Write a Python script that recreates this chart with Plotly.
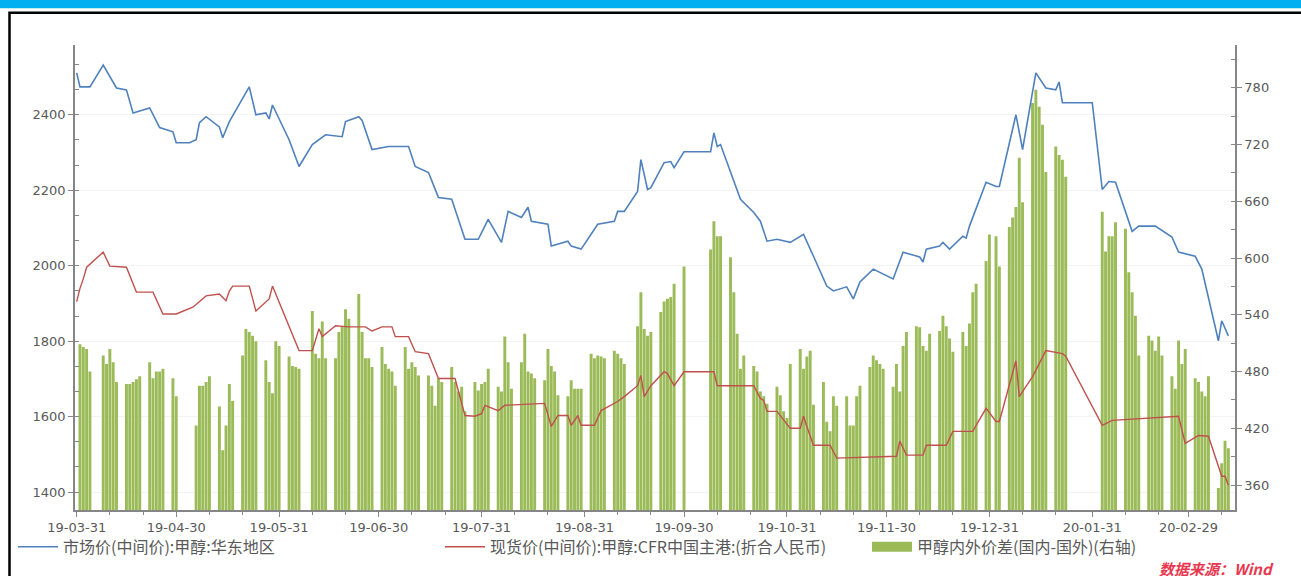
import plotly.graph_objects as go
import pandas as pd

# ---------------- data ----------------
blue_name = "市场价(中间价):甲醇:华东地区"
red_name = "现货价(中间价):甲醇:CFR中国主港:(折合人民币)"
bar_name = "甲醇内外价差(国内-国外)(右轴)"

blue_dates = [
    "2019-03-31", "2019-04-01", "2019-04-04", "2019-04-08", "2019-04-12", "2019-04-15",
    "2019-04-17", "2019-04-22", "2019-04-25", "2019-04-29", "2019-04-30", "2019-05-04",
    "2019-05-06", "2019-05-07", "2019-05-09", "2019-05-13", "2019-05-14", "2019-05-16",
    "2019-05-22", "2019-05-24", "2019-05-27", "2019-05-28", "2019-05-29", "2019-06-03",
    "2019-06-06", "2019-06-10", "2019-06-14", "2019-06-19", "2019-06-20", "2019-06-24",
    "2019-06-25", "2019-06-26", "2019-06-28", "2019-07-03", "2019-07-09", "2019-07-11",
    "2019-07-15", "2019-07-18", "2019-07-22", "2019-07-26", "2019-07-30", "2019-08-02",
    "2019-08-06", "2019-08-08", "2019-08-12", "2019-08-14", "2019-08-15", "2019-08-20",
    "2019-08-21", "2019-08-26", "2019-08-27", "2019-08-30", "2019-09-04", "2019-09-09",
    "2019-09-10", "2019-09-12", "2019-09-16", "2019-09-17", "2019-09-19", "2019-09-20",
    "2019-09-24", "2019-09-26", "2019-09-27", "2019-09-30", "2019-10-08", "2019-10-09",
    "2019-10-10", "2019-10-11", "2019-10-17", "2019-10-21", "2019-10-23", "2019-10-25",
    "2019-10-28", "2019-11-01", "2019-11-05", "2019-11-08", "2019-11-12", "2019-11-14",
    "2019-11-18", "2019-11-20", "2019-11-22", "2019-11-26", "2019-12-02", "2019-12-05",
    "2019-12-10", "2019-12-11", "2019-12-12", "2019-12-16", "2019-12-17", "2019-12-19",
    "2019-12-23", "2019-12-24", "2019-12-25", "2019-12-30", "2020-01-02", "2020-01-03",
    "2020-01-06", "2020-01-08", "2020-01-10", "2020-01-14", "2020-01-17", "2020-01-20",
    "2020-01-21", "2020-01-22", "2020-01-31", "2020-02-03", "2020-02-05", "2020-02-07",
    "2020-02-12", "2020-02-14", "2020-02-19", "2020-02-24", "2020-02-26", "2020-03-02",
    "2020-03-04", "2020-03-09", "2020-03-10", "2020-03-12",
]
blue_values = [
    2511, 2474, 2474, 2532, 2471, 2466,
    2405, 2418, 2366, 2355, 2326, 2326,
    2334, 2379, 2395, 2368, 2339, 2382,
    2474, 2400, 2405, 2389, 2426, 2334,
    2263, 2321, 2347, 2342, 2382, 2395,
    2385, 2360, 2308, 2316, 2316, 2263,
    2247, 2181, 2176, 2070, 2070, 2123,
    2062, 2144, 2128, 2155, 2118, 2110,
    2052, 2065, 2052, 2044, 2110, 2118,
    2144, 2144, 2197, 2281, 2202, 2207,
    2273, 2276, 2260, 2302, 2302, 2352,
    2316, 2321, 2176, 2141, 2118, 2065,
    2070, 2062, 2083, 2025, 1946, 1933,
    1944, 1912, 1957, 1991, 1965, 2036,
    2023, 2010, 2044, 2052, 2062, 2044,
    2078, 2073, 2105, 2221, 2210, 2210,
    2321, 2400, 2308, 2511, 2471, 2466,
    2487, 2432, 2432, 2202, 2223, 2221,
    2091, 2105, 2105, 2076, 2036, 2025,
    1991, 1801, 1854, 1814,
]

red_dates = [
    "2019-03-31", "2019-04-01", "2019-04-02", "2019-04-03", "2019-04-08", "2019-04-10",
    "2019-04-15", "2019-04-18", "2019-04-23", "2019-04-26", "2019-04-30", "2019-05-05",
    "2019-05-09", "2019-05-13", "2019-05-15", "2019-05-16", "2019-05-17", "2019-05-22",
    "2019-05-24", "2019-05-28", "2019-05-29", "2019-06-04", "2019-06-06", "2019-06-10",
    "2019-06-12", "2019-06-13", "2019-06-17", "2019-06-21", "2019-06-26", "2019-06-28",
    "2019-07-01", "2019-07-04", "2019-07-05", "2019-07-09", "2019-07-11", "2019-07-15",
    "2019-07-18", "2019-07-23", "2019-07-26", "2019-07-29", "2019-07-31", "2019-08-01",
    "2019-08-05", "2019-08-07", "2019-08-19", "2019-08-21", "2019-08-23", "2019-08-26",
    "2019-08-27", "2019-08-29", "2019-08-30", "2019-09-03", "2019-09-05", "2019-09-10",
    "2019-09-12", "2019-09-16", "2019-09-17", "2019-09-18", "2019-09-20", "2019-09-24",
    "2019-09-25", "2019-09-27", "2019-09-30", "2019-10-09", "2019-10-10", "2019-10-21",
    "2019-10-23", "2019-10-24", "2019-10-25", "2019-10-28", "2019-11-01", "2019-11-04",
    "2019-11-05", "2019-11-06", "2019-11-08", "2019-11-13", "2019-11-15", "2019-12-03",
    "2019-12-04", "2019-12-06", "2019-12-11", "2019-12-12", "2019-12-18", "2019-12-20",
    "2019-12-26", "2019-12-27", "2019-12-30", "2020-01-02", "2020-01-03", "2020-01-08",
    "2020-01-09", "2020-01-13", "2020-01-17", "2020-01-22", "2020-01-23", "2020-02-03",
    "2020-02-06", "2020-02-26", "2020-02-28", "2020-03-03", "2020-03-06", "2020-03-10",
    "2020-03-11", "2020-03-12",
]
red_values = [
    1905, 1940, 1965, 1996, 2036, 1999,
    1996, 1930, 1930, 1872, 1872, 1890,
    1920, 1925, 1907, 1933, 1946, 1946,
    1880, 1912, 1946, 1814, 1775, 1775,
    1833, 1812, 1841, 1838, 1838, 1827,
    1838, 1838, 1812, 1812, 1772, 1767,
    1701, 1701, 1603, 1601, 1608, 1630,
    1616, 1630, 1635, 1574, 1603, 1603,
    1577, 1603, 1577, 1577, 1616, 1640,
    1653, 1682, 1709, 1653, 1682, 1719,
    1714, 1682, 1719, 1719, 1682, 1682,
    1648, 1643, 1614, 1614, 1569, 1569,
    1601, 1574, 1524, 1524, 1490, 1495,
    1535, 1498, 1498, 1524, 1524, 1561,
    1561, 1577, 1622, 1587, 1587, 1748,
    1653, 1706, 1775, 1767, 1760, 1577,
    1590, 1601, 1529, 1550, 1548, 1442,
    1442, 1418,
]

# market closures (no spread published on these weekdays)
holidays = [
    "2019-04-05", "2019-05-01", "2019-05-02", "2019-05-03", "2019-06-07", "2019-09-13",
    "2019-10-01", "2019-10-02", "2019-10-03", "2019-10-04", "2019-10-07", "2020-01-01",
    "2020-01-24", "2020-01-27", "2020-01-28", "2020-01-29", "2020-01-30", "2020-01-31",
]
bar_start, bar_end = "2019-04-01", "2020-03-12"
spread_values = [
    509, 506, 504, 480,
    497, 488, 504, 490, 469,
    467, 467, 469, 472, 475,
    490, 473, 480, 480, 483,
    473, 454,
    423, 465, 465, 469, 475,
    443, 397, 423, 467, 449,
    497, 525, 522, 518, 512,
    492, 469, 457, 512, 507,
    496, 486, 485, 483,
    544, 499, 494, 533, 494,
    494, 522, 528, 546, 536,
    562, 522, 494, 494, 485,
    506, 488, 483, 480, 465,
    506, 483, 490, 485, 476,
    476, 465, 444, 473, 469,
    485, 469, 459, 464, 438,
    469, 460, 467, 469, 483,
    464, 459, 517, 490, 462,
    490, 520, 480, 478, 473,
    471, 504, 486, 480, 455,
    454, 471, 462, 462, 462,
    499, 494, 497, 496, 494,
    502, 499, 494, 488,
    528, 564, 525, 518, 522,
    543, 554, 557, 559, 573,
    591,
    609, 639, 623, 623,
    601, 564, 520, 483, 497,
    486, 480, 459, 454, 446,
    464, 455, 438, 431, 488,
    504, 483, 496, 502, 445,
    469, 427, 417, 454, 444,
    454, 423, 423, 454, 465,
    485, 497, 492, 488, 483,
    464, 488, 459, 507, 522,
    528, 527, 507, 502, 520,
    523, 539, 528, 515, 501,
    522, 507, 531, 564, 573,
    597, 625, 623, 591,
    633, 643, 654, 706, 659,
    764, 778, 760, 741, 691,
    718, 709, 704, 686,
    649, 607, 623, 623, 638,
    631, 585, 564, 539, 497,
    518, 513, 502, 517, 497,
    475, 462, 513, 488, 504,
    473, 469, 459, 454, 475,
    357, 383, 407, 399,
]

tick_dates = [
    "2019-03-31", "2019-04-30", "2019-05-31", "2019-06-30", "2019-07-31", "2019-08-31",
    "2019-09-30", "2019-10-31", "2019-11-30", "2019-12-31", "2020-01-31", "2020-02-29",
]

# ---------------- build ----------------
hol = set(pd.to_datetime(holidays))
bar_dates = [d for d in pd.bdate_range(bar_start, bar_end) if d not in hol]
n = min(len(bar_dates), len(spread_values))
bar_dates = bar_dates[:n]
spread_plot = spread_values[:n]

tick_ts = pd.to_datetime(tick_dates)
minor_vals = []
for t in tick_ts:
    minor_vals += [t + pd.Timedelta(days=10), t + pd.Timedelta(days=20)]

GREEN = "#9BBB59"
BLUE = "#4F81BD"
RED = "#C0504D"
AXIS = "#868686"
TXT = "#595959"

fig = go.Figure()
fig.add_trace(go.Bar(x=bar_dates, y=spread_plot, marker=dict(color=GREEN, line=dict(width=0)),
                     name=bar_name, yaxis="y", showlegend=False, legendgroup="g"))
fig.add_trace(go.Scatter(x=[None], y=[None], mode="lines", line=dict(color=GREEN, width=12),
                         name=bar_name, yaxis="y", legendgroup="g", legend="legend3"))
fig.add_trace(go.Scatter(x=pd.to_datetime(blue_dates), y=blue_values, mode="lines",
                         line=dict(color=BLUE, width=1.6), name=blue_name, yaxis="y2",
                         legend="legend"))
fig.add_trace(go.Scatter(x=pd.to_datetime(red_dates), y=red_values, mode="lines",
                         line=dict(color=RED, width=1.4), name=red_name, yaxis="y2",
                         legend="legend2"))

W, H = 1301, 576
L, R, T, B = 75, 1235, 45, 512
def px(x):
    return (x - L) / (R - L)
def py(y):
    return 1 - (y - T) / (B - T)

tickfont = dict(family="DejaVu Sans", size=13, color=TXT)
legfont = dict(family="Noto Sans CJK SC", size=16, color=TXT)

def leg(x_px):
    return dict(orientation="h", x=px(x_px), xanchor="left", y=py(549), yanchor="middle",
                font=legfont, itemwidth=40, bgcolor="rgba(0,0,0,0)")

fig.update_layout(
    width=W, height=H,
    margin=dict(l=L, r=W - R, t=T, b=H - B, pad=0),
    paper_bgcolor="white", plot_bgcolor="white",
    hovermode=False,
    bargap=0.12,
    showlegend=True,
    legend=leg(13),
    legend2=leg(440),
    legend3=leg(867),
    xaxis=dict(type="date", range=["2019-03-30 12:00", "2020-03-14"],
               tickmode="array", tickvals=tick_ts, tickformat="%y-%m-%d",
               ticks="outside", ticklen=5, tickcolor=AXIS, showline=True, linecolor=AXIS,
               linewidth=1.5, showgrid=False, zeroline=False, tickfont=tickfont,
               minor=dict(tickmode="array", tickvals=minor_vals, ticks="outside",
                          ticklen=3, tickcolor=AXIS)),
    yaxis=dict(side="right", range=[333.7, 825.3], tick0=360, dtick=60,
               ticks="outside", ticklen=5, tickcolor=AXIS, showline=True, linecolor=AXIS,
               linewidth=1.5, showgrid=False, zeroline=False, tickfont=tickfont,
               minor=dict(dtick=30, ticks="inside", ticklen=4, tickcolor=AXIS)),
    yaxis2=dict(side="left", overlaying="y", range=[1352.5, 2585], tick0=1400, dtick=200,
                ticks="outside", ticklen=5, tickcolor=AXIS, showline=True, linecolor=AXIS,
                linewidth=1.5, showgrid=True, gridcolor="#F3F3F3", zeroline=False,
                tickfont=tickfont,
                minor=dict(dtick=200 / 3, ticks="inside", ticklen=4, tickcolor=AXIS)),
)

# frame decorations
fig.add_shape(type="rect", xref="paper", yref="paper",
              x0=px(-5), x1=px(W + 5), y0=py(8), y1=py(-5),
              fillcolor="#00B0F0", line=dict(width=0), layer="above")
fig.add_shape(type="rect", xref="paper", yref="paper",
              x0=px(9.5), x1=px(W + 20), y0=py(H + 20), y1=py(12.5),
              fillcolor="rgba(0,0,0,0)", line=dict(color="black", width=2.5), layer="above")

fig.add_annotation(xref="paper", yref="paper", x=px(1276), y=py(571), xanchor="right",
                   yanchor="middle", showarrow=False, text="<b><i>数据来源：Wind</i></b>",
                   font=dict(family="Noto Sans CJK SC", size=15, color="#E8384F"))

fig.write_html("out.html", config={"displayModeBar": False},
               post_script="document.body.style.margin='0';document.body.style.overflow='hidden';")
